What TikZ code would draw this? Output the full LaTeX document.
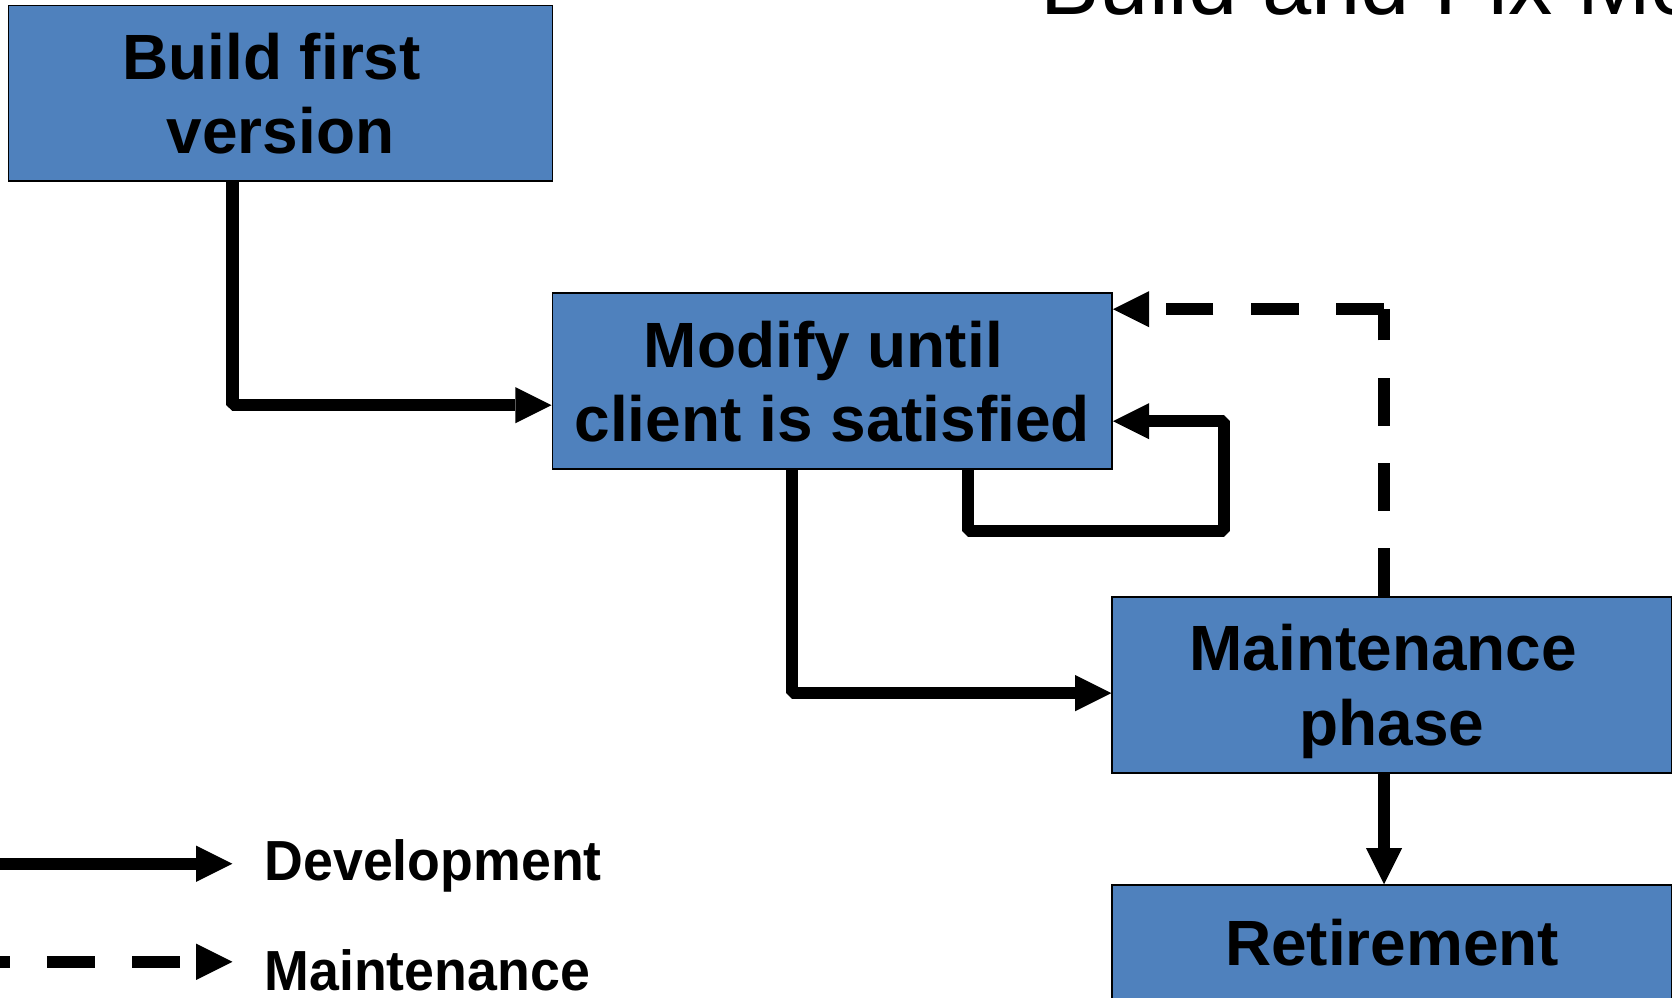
\documentclass[tikz,border=0pt]{standalone}
\usepackage{fontspec}
\setmainfont{Liberation Sans}
\newfontfamily\legendfont[FakeStretch=0.95]{Liberation Sans}
\usetikzlibrary{arrows.meta}
\definecolor{boxblue}{HTML}{4F81BD}
\newcommand{\trail}{\hspace*{0.278em}}
\begin{document}
\begin{tikzpicture}[x=1pt,y=-1pt,
  box/.style={draw=black, line width=1.5pt, fill=boxblue, inner sep=0pt, align=center,
    font=\bfseries\fontsize{60}{70}\selectfont, text depth=0pt},
  bigbox/.style={box, minimum width=525pt, minimum height=165pt},
  conn/.style={line width=11.5pt, line join=bevel},
  dev/.style={conn, -{Triangle[length=34pt,width=34pt,line width=0pt]}},
  dashes/.style={dash pattern=on 45pt off 35pt},
  legend/.style={inner sep=0pt, anchor=base west, font=\legendfont\bfseries\fontsize{53}{60}\selectfont}]
\useasboundingbox (0,0) rectangle (1568,935);
\clip (0,0) rectangle (1568,935);

\node[anchor=base west, inner sep=0pt, font=\fontsize{83}{90}\selectfont] (title) at (976,14) {Build and Fix Model};

\node[box, minimum width=510pt, minimum height=165pt] (b1) at (263,87.5) {Build first\trail\\version};
\node[bigbox] (b2) at (780.5,357.5) {Modify until\trail\\client is satisfied};
\node[bigbox] (b3) at (1305.5,642.5) {Maintenance\trail\\phase};
\node[box, minimum width=525pt, minimum height=108pt] (b4) at (1305.5,884) {Retirement};

\coordinate (c1) at (218,380);
\coordinate (c2) at (743,650);
\coordinate (c3) at (908,498);
\coordinate (c4) at (1148,395);
\coordinate (c5) at (1298,290);

\draw[dev] (b1.south -| c1) |- (b2.west |- c1);
\draw[dev] (b2.south -| c2) |- (b3.west |- c2);
\draw[dev] (b2.south -| c3) -- (c3) -| (c4) -- (b2.east |- c4);
\draw[conn, dashes] (b3.north -| c5) -- (c5);
\draw[dev, dashes] (c5) -- (b2.east |- c5);
\draw[dev] (b3.south -| c5) -- (b4.north -| c5);

\node[legend] (ld) at (248,826) {Development};
\node[legend] (lm) at (248,929) {Maintenance};
\coordinate (ls1) at (-10,810);
\coordinate (ls2) at (-36,902);
\draw[dev, shorten >=30pt] (ls1) -- (ls1 -| ld.west);
\draw[dev, dashes, shorten >=30pt] (ls2) -- (ls2 -| lm.west);
\end{tikzpicture}
\end{document}
